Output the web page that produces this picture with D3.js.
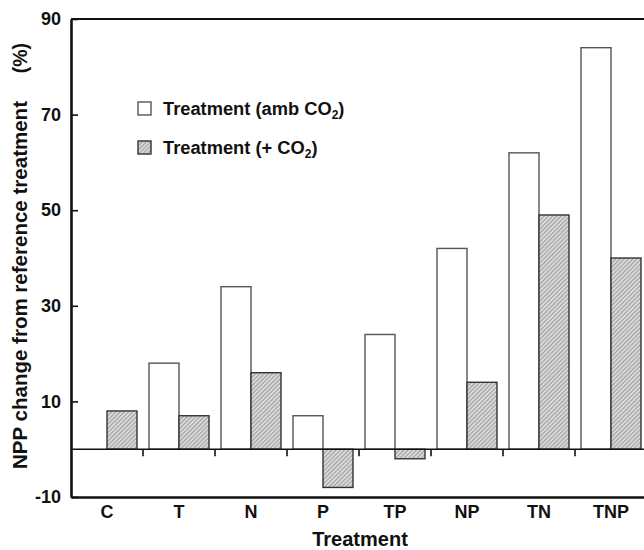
<!DOCTYPE html>
<html>
<head>
<meta charset="utf-8">
<script src="https://cdn.jsdelivr.net/npm/d3@7"></script>
<style>
  body { margin: 0; background: #fff; }
  svg text { font-family: "Liberation Sans", Arial, sans-serif; font-weight: bold; fill: #111; }
</style>
</head>
<body>
<svg id="chart" width="644" height="550"></svg>
<script>
// Data
const treatments = ['C', 'T', 'N', 'P', 'TP', 'NP', 'TN', 'TNP'];
const ambCO2 = [0, 18, 34, 7, 24, 42, 62, 84];
const plusCO2 = [8, 7, 16, -8, -2, 14, 49, 40];
const seriesKeys = ['amb', 'plus'];
const yTicks = [-10, 10, 30, 50, 70, 90];

const svg = d3.select('#chart');

const margin = {top: 19, right: -3, bottom: 53, left: 71};
const width = 644 - margin.left - margin.right,
  height = 550 - margin.top - margin.bottom;

// Hatch pattern for the + CO2 bars
const defs = svg.append('defs');
const pat = defs.append('pattern')
  .attr('id', 'hatch')
  .attr('patternUnits', 'userSpaceOnUse')
  .attr('width', 3).attr('height', 3)
  .attr('patternTransform', 'rotate(45)');
pat.append('rect').attr('width', 3).attr('height', 3).attr('fill', '#d8d8d8');
pat.append('line')
  .attr('x1', 0).attr('y1', 0).attr('x2', 0).attr('y2', 3)
  .attr('stroke', '#777').attr('stroke-width', 1.2);

const g = svg.append('g')
  .attr('transform', 'translate(' + margin.left + ',' + margin.top + ')');

// Scales
const x0 = d3.scaleBand().domain(treatments).range([0, width]).padding(0);
const x1 = d3.scaleBand().domain(seriesKeys).range([0, x0.bandwidth()])
  .paddingInner(0).paddingOuter(0.2);
const y = d3.scaleLinear().domain([-10, 90]).range([height, 0]);

const rows = treatments.map((t, i) => ({t: t, amb: ambCO2[i], plus: plusCO2[i]}));

// Bars
const groups = g.selectAll('.grp').data(rows).join('g')
  .attr('class', 'grp')
  .attr('transform', d => 'translate(' + x0(d.t) + ',0)');

groups.selectAll('rect')
  .data(d => seriesKeys.map(k => ({key: k, value: d[k]})).filter(e => e.value !== 0))
  .join('rect')
  .attr('x', e => x1(e.key))
  .attr('width', x1.bandwidth())
  .attr('y', e => y(Math.max(0, e.value)))
  .attr('height', e => Math.abs(y(e.value) - y(0)))
  .attr('fill', e => e.key === 'amb' ? '#fff' : 'url(#hatch)')
  .attr('stroke', e => e.key === 'amb' ? '#555' : '#333')
  .attr('stroke-width', 1.4);

// Zero line with ticks at group boundaries
g.append('line')
  .attr('x1', 0).attr('x2', width)
  .attr('y1', y(0)).attr('y2', y(0))
  .attr('stroke', '#111').attr('stroke-width', 1.6);

g.selectAll('.zt').data(treatments.slice(1)).join('line')
  .attr('class', 'zt')
  .attr('x1', d => x0(d)).attr('x2', d => x0(d))
  .attr('y1', y(0)).attr('y2', y(0) + 7)
  .attr('stroke', '#111').attr('stroke-width', 1.6);

// Frame: top line
g.append('line')
  .attr('x1', 0).attr('x2', width).attr('y1', 0).attr('y2', 0)
  .attr('stroke', '#111').attr('stroke-width', 2.2);
g.append('line')
  .attr('x1', width).attr('x2', width).attr('y1', 0).attr('y2', height)
  .attr('stroke', '#bbb').attr('stroke-width', 1);

// Y axis
const yAxis = d3.axisLeft(y)
  .tickValues(yTicks)
  .tickFormat(d => String(d))
  .tickSizeInner(-7)
  .tickSizeOuter(0)
  .tickPadding(10);

const yg = g.append('g').attr('class', 'y axis').call(yAxis);
yg.select('.domain').attr('stroke', '#111').attr('stroke-width', 2.6);
yg.selectAll('.tick line').attr('stroke', '#111').attr('stroke-width', 1.6);
yg.selectAll('.tick text').attr('font-size', 18).attr('fill', '#111')
  .attr('font-family', '"Liberation Sans", Arial, sans-serif').attr('font-weight', 'bold');

// X axis (bottom frame line with category labels)
const xAxis = d3.axisBottom(x0).tickSize(0).tickPadding(8);
const xg = g.append('g').attr('class', 'x axis')
  .attr('transform', 'translate(0,' + height + ')')
  .call(xAxis);
xg.select('.domain').attr('stroke', '#111').attr('stroke-width', 2.6);
xg.selectAll('.tick text').attr('font-size', 18).attr('fill', '#111')
  .attr('font-family', '"Liberation Sans", Arial, sans-serif').attr('font-weight', 'bold');

// Axis titles
svg.append('text')
  .attr('x', 360).attr('y', 546)
  .attr('text-anchor', 'middle').attr('font-size', 20)
  .text('Treatment');

svg.append('text')
  .attr('transform', 'translate(27,469) rotate(-90)')
  .attr('text-anchor', 'start').attr('font-size', 19.5)
  .attr('textLength', 368).attr('lengthAdjust', 'spacingAndGlyphs')
  .text('NPP change from reference treatment');
svg.append('text')
  .attr('transform', 'translate(27,43) rotate(-90)')
  .attr('text-anchor', 'end').attr('font-size', 19.5)
  .text('(%)');

// Legend
const legend = [
  {label: 'Treatment (amb CO', fill: '#fff', stroke: '#555'},
  {label: 'Treatment (+ CO', fill: 'url(#hatch)', stroke: '#333'}
];
const lg = svg.append('g').attr('transform', 'translate(138,102)');
legend.forEach((d, i) => {
  const row = lg.append('g').attr('transform', 'translate(0,' + (i * 39) + ')');
  row.append('rect').attr('width', 13).attr('height', 13)
    .attr('fill', d.fill).attr('stroke', d.stroke).attr('stroke-width', 1.4);
  const t = row.append('text').attr('x', 25).attr('y', 13).attr('font-size', 18.3);
  t.append('tspan').text(d.label);
  t.append('tspan').attr('font-size', 12).attr('dy', 4).text('2');
  t.append('tspan').attr('dy', -4).text(')');
});
</script>
</body>
</html>
